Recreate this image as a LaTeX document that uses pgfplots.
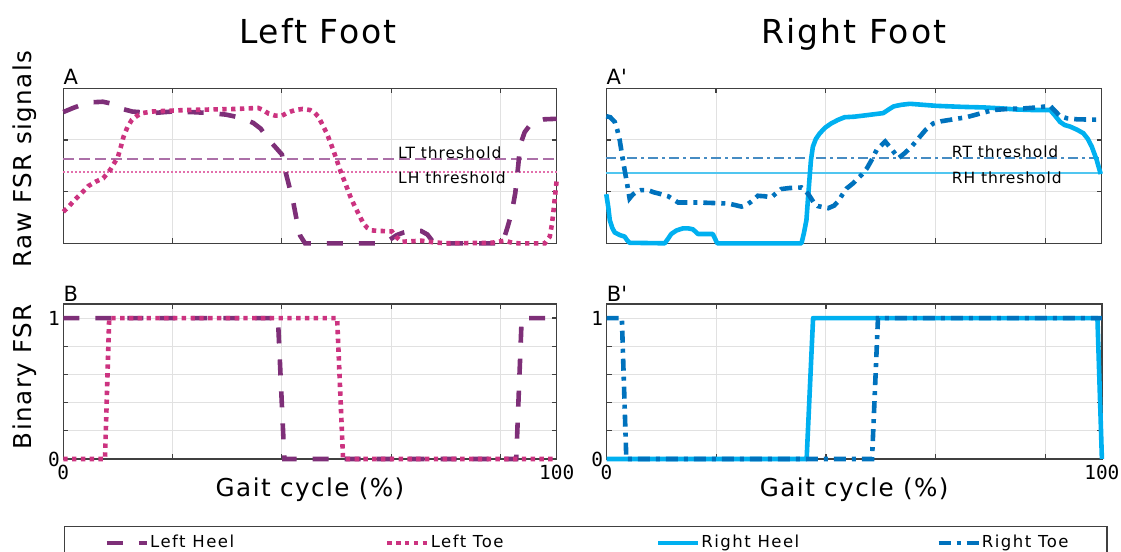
\documentclass[border=0pt]{standalone}
\usepackage{fontspec}
\setmainfont{DejaVu Sans}[LetterSpace=6]
\newfontfamily\monofont{DejaVu Sans Mono}
\newfontfamily\legfont{DejaVu Sans}[LetterSpace=9]
\newfontfamily\plainsans{DejaVu Sans}
\usepackage{pgfplots}
\pgfplotsset{compat=1.18}
\definecolor{lheel}{RGB}{126,47,120}
\definecolor{ltoe}{RGB}{204,51,128}
\definecolor{rheel}{RGB}{0,176,240}
\definecolor{rtoe}{RGB}{0,114,189}
\definecolor{lthr}{RGB}{172,112,168}
\definecolor{lhthr}{RGB}{226,112,172}
\definecolor{rtthr}{RGB}{70,140,195}
\definecolor{rhthr}{RGB}{80,198,240}
\definecolor{axcol}{RGB}{64,64,64}
\definecolor{gridcol}{RGB}{225,225,225}
\tikzset{
  lh/.style={lheel, line width=2.3pt, dash pattern=on 8pt off 8pt},
  lt/.style={ltoe, line width=2.3pt, dash pattern=on 2.2pt off 2.2pt},
  rh/.style={rheel, line width=2.3pt, line join=round},
  rt/.style={rtoe, line width=2.3pt, dash pattern=on 6pt off 3pt on 2pt off 3pt},
  panel/.style={anchor=base west, inner sep=0pt, font=\plainsans\fontsize{10.5}{12}\selectfont},
  thr/.style={anchor=base west, inner sep=0pt, font=\fontsize{7.75}{9}\selectfont},
}
\pgfplotsset{
  fsrbase/.style={
    scale only axis, height=77.5pt,
    xmin=0, xmax=100, clip=false,
    axis line style={draw=axcol, line width=0.7pt},
    every tick/.style={draw=axcol, line width=0.6pt},
    major tick length=2.5pt,
    tick align=inside,
    xtick={0,22.15,44.3,66.45,88.6,100},
    xmajorgrids, ymajorgrids,
    grid style={draw=gridcol, line width=0.5pt},
    /pgf/number format/assume math mode=true,
    ticklabel style={font=\monofont\fontsize{9.7}{11}\selectfont},
    xticklabel style={inner sep=3pt, anchor=north},
    yticklabel style={inner sep=1.5pt},
    label style={font=\fontsize{12.3}{14}\selectfont},
    title style={anchor=base, yshift=16.5pt, font=\fontsize{16.5}{19}\selectfont},
  },
  raw/.style={fsrbase, ymin=0, ymax=3, ytick={0,1,2,3}, xticklabels={}, yticklabels={},
    ylabel style={at={(axis description cs:-0.064,0.544)}, anchor=base}},
  bin/.style={fsrbase, ymin=0, ymax=1.1, ytick={0,0.2,0.4,0.6,0.8,1},
    yticklabels={0,,,,,1}, xticklabels={\makebox[0pt]{0},,,,,\makebox[0pt]{100}},
    xlabel={Gait cycle (\%)},
    xlabel style={at={(axis description cs:0.5,0)}, anchor=base, yshift=-18.85pt},
    ylabel style={at={(axis description cs:-0.064,0.531)}, anchor=base}},
}
\begin{document}
\begin{tikzpicture}
\useasboundingbox (0,0) rectangle (560.5pt,-276pt);
\clip (0,0) rectangle (560.5pt,-276pt);

% ---------- A: raw left
\begin{axis}[raw, at={(31.65pt,-121.65pt)}, anchor=south west, width=246.7pt,
  title={Left Foot}, title style={at={(0.516,1)}}, ylabel={Raw FSR signals}]
\addplot[lthr, line width=1pt, dash pattern=on 5.5pt off 2.5pt, forget plot] coordinates {(0,1.63) (100,1.63)};
\addplot[lhthr, line width=1pt, dash pattern=on 1pt off 1pt, forget plot] coordinates {(0,1.38) (100,1.38)};
\addplot[lh, forget plot] coordinates {
(0,2.54) (2,2.62) (4,2.69) (6,2.73) (8,2.74) (10,2.70) (12,2.60) (14,2.55) (18,2.52)
(22,2.55) (26,2.54) (30,2.52) (33,2.49) (36,2.43) (38.5,2.33) (40,2.22) (41.5,2.02)
(43,1.86) (44.3,1.72) (45,1.40) (45.8,1.10) (46.5,0.85) (47.3,0.45) (48,0.15) (49,0)
(64,0) (66,0.06) (67.6,0.16) (69,0.21) (71,0.25) (72.5,0.24) (73.8,0.17) (75,0.02)
(76,0) (89,0) (90,0.3) (90.9,0.6) (91.6,0.97) (92.2,1.5) (92.6,1.9) (93.5,2.15)
(94.6,2.29) (96,2.36) (97.5,2.40) (100,2.41)};
\addplot[lt, forget plot] coordinates {
(0,0.61) (1,0.70) (2.4,0.85) (4,1.0) (5.1,1.11) (6.5,1.19) (8.1,1.26) (9.5,1.42)
(10.5,1.58) (11.1,1.68) (11.7,1.88) (12.2,2.06) (13,2.25) (13.9,2.39) (15,2.47)
(16,2.52) (18,2.55) (20,2.56) (25,2.58) (30,2.59) (35,2.60) (39.5,2.62) (40.5,2.58)
(41.6,2.51) (43,2.47) (44.3,2.47) (45.5,2.53) (47,2.58) (48.5,2.60) (50,2.58)
(51,2.52) (51.7,2.45) (52.5,2.30) (53.4,2.13) (54.7,1.81) (56.1,1.42) (57.4,1.10)
(58.2,0.90) (59.1,0.71) (60,0.54) (60.8,0.39) (61.6,0.30) (62.5,0.25) (64,0.24)
(66.6,0.23) (67.5,0.12) (68.6,0.03) (72.6,0.05) (75,0.02) (77.4,0) (86.8,0.01)
(89.5,0.05) (91,0.01) (92.2,0) (97.6,0) (98.6,0.13) (99.0,0.35) (99.3,0.58)
(99.7,0.95) (100,1.23)};
\node[thr] at (axis cs:67.8,1.645) {LT threshold};
\node[thr] at (axis cs:67.8,1.148) {LH threshold};
\node[panel, yshift=1.75pt] at (rel axis cs:0,1) {A};
\end{axis}

% ---------- A': raw right
\begin{axis}[raw, at={(303.15pt,-121.65pt)}, anchor=south west, width=247.7pt,
  title={Right Foot}, title style={at={(0.5,1)}}]
\addplot[rtthr, line width=1pt, dash pattern=on 5pt off 2pt on 1.5pt off 2pt, forget plot] coordinates {(0,1.645) (100,1.645)};
\addplot[rhthr, line width=1pt, forget plot] coordinates {(0,1.355) (100,1.355)};
\addplot[rh, forget plot] coordinates {
(0,0.95) (0.4,0.7) (0.7,0.45) (1.2,0.30) (1.7,0.21) (2.7,0.16) (3.7,0.13) (4.2,0.06)
(4.7,0.01) (11.8,0) (12.4,0.08) (13.1,0.18) (14.2,0.25) (15.5,0.29) (16.5,0.29)
(17.5,0.27) (18.5,0.18) (21.5,0.18) (22,0.08) (22.4,0) (39.4,0) (39.9,0.2)
(40.4,0.45) (40.7,0.85) (41.0,1.23) (41.3,1.6) (41.7,1.87) (42.3,2.02) (43.1,2.13)
(44.2,2.24) (45.4,2.32) (46.8,2.39) (48.1,2.44) (50,2.45) (52.6,2.48) (55.9,2.52)
(57,2.59) (58,2.65) (59.5,2.68) (61.3,2.70) (64,2.68) (66.7,2.66) (69.4,2.65)
(72,2.64) (76.1,2.63) (80,2.61) (82.8,2.59) (86,2.58) (89.6,2.58) (90.5,2.48)
(91.6,2.35) (92.5,2.29) (93.6,2.26) (95,2.20) (96.3,2.13) (97.2,2.02) (98,1.87)
(99,1.61) (99.8,1.34)};
\addplot[rt, forget plot] coordinates {
(0,2.46) (0.8,2.44) (1.7,2.35) (2.2,2.2) (2.7,2.0) (3.2,1.7) (3.7,1.42) (4.2,1.15)
(4.7,0.87) (5.3,0.94) (6.1,1.0) (7,1.03) (8.4,1.03) (9.5,0.99) (11.1,0.95)
(12.5,0.91) (14.5,0.79) (18.5,0.79) (24.6,0.77) (26,0.74) (27.3,0.71) (28.3,0.74)
(29.3,0.81) (30.6,0.92) (32,0.91) (33.3,0.89) (34.3,0.97) (35.3,1.05) (37,1.07)
(39.4,1.08) (40.2,1.02) (41.0,0.92) (41.8,0.80) (42.7,0.72) (44.8,0.68) (46,0.73)
(46.8,0.81) (47.7,0.95) (48.5,1.06) (49.8,1.16) (50.8,1.26) (51.6,1.33) (52.6,1.45)
(53.6,1.62) (54.6,1.81) (56.3,1.97) (57.6,1.82) (59,1.65) (60.3,1.75) (61.6,1.87)
(63,2.03) (64.5,2.20) (66,2.32) (67.5,2.36) (69.4,2.39) (72.7,2.44) (75,2.50)
(78.1,2.58) (81,2.60) (84.2,2.61) (87,2.63) (89.6,2.66) (90.6,2.56) (91.6,2.46)
(93,2.42) (95,2.40) (100,2.39)};
\node[thr] at (axis cs:69.7,1.66) {RT threshold};
\node[thr] at (axis cs:69.7,1.148) {RH threshold};
\node[panel, yshift=1.75pt] at (rel axis cs:0,1) {A\textquotesingle};
\end{axis}

% ---------- B: binary left
\begin{axis}[bin, at={(31.65pt,-229.5pt)}, anchor=south west, width=246.7pt,
  ylabel={Binary FSR},
  legend columns=4,
  legend image code/.code={\draw[#1] (0pt,0pt) -- (20pt,0pt);},
  legend style={at={(axis description cs:0.0014,-0.430)}, anchor=north west,
    draw=axcol, line width=0.6pt, inner xsep=20pt, inner ysep=4pt,
    nodes={inner sep=0.5pt},
    font=\legfont\fontsize{8.25}{10}\selectfont,
    /tikz/every even column/.append style={column sep=0pt}}]
\addplot[lh, forget plot] coordinates {(0,1) (43.5,1) (44.8,0) (91.8,0) (92.9,1) (100,1)};
\addplot[lt, forget plot] coordinates {(0,0) (8.45,0) (9.3,1) (55.5,1) (56.7,0) (100,0)};
\node[panel, yshift=1.2pt] at (rel axis cs:0,1) {B};
\addlegendimage{lh}
\addlegendentry{\makebox[117pt][l]{Left Heel}}
\addlegendimage{lt}
\addlegendentry{\makebox[112pt][l]{Left Toe}}
\addlegendimage{rh}
\addlegendentry{\makebox[117pt][l]{Right Heel}}
\addlegendimage{rt}
\addlegendentry{\makebox[42pt][l]{Right Toe}}
\end{axis}

% ---------- B': binary right
\begin{axis}[bin, at={(303.25pt,-229.5pt)}, anchor=south west, width=247.7pt]
\addplot[rh, forget plot] coordinates {(0,0) (40.4,0) (41.7,1) (99.1,1) (100,0)};
\addplot[rt, forget plot] coordinates {(0,1) (3.1,1) (4.0,0) (53.6,0) (54.8,1) (100,1)};
\node[panel, yshift=1.2pt] at (rel axis cs:0,1) {B\textquotesingle};
\end{axis}
\end{tikzpicture}
\end{document}
